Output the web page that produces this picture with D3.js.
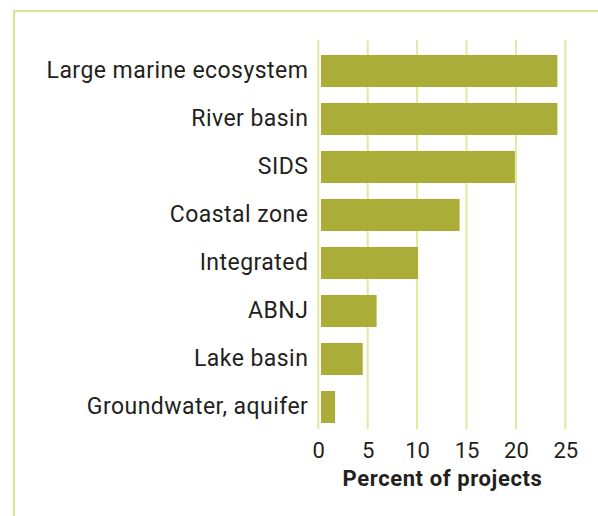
<!DOCTYPE html>
<html>
<head>
<meta charset="utf-8">
<script src="https://cdn.jsdelivr.net/npm/d3@7"></script>
<style>
  html, body { margin: 0; padding: 0; background: #ffffff; }
  svg { display: block; }
  text { font-family: Roboto, "Noto Sans", sans-serif; fill: #231f20; }
</style>
</head>
<body>
<svg id="chart" width="598" height="516"></svg>
<script>
// Project types, top to bottom
const categories = [
  "Large marine ecosystem",
  "River basin",
  "SIDS",
  "Coastal zone",
  "Integrated",
  "ABNJ",
  "Lake basin",
  "Groundwater, aquifer"
];
// Share of projects (%)
const percents = [24.2, 24.2, 19.9, 14.3, 10.1, 5.9, 4.5, 1.7];
const tickValues = [0, 5, 10, 15, 20, 25];
const axisTitle = "Percent of projects";

const barColor = "#aaae38";
const gridColor = "#dfe99f";
const frameColor = "#d8e48e";

const svg = d3.select("#chart");

// Frame: top and left rules
svg.append("line")
  .attr("x1", 13).attr("x2", 598).attr("y1", 11).attr("y2", 11)
  .attr("stroke", frameColor).attr("stroke-width", 2.2);
svg.append("line")
  .attr("x1", 14).attr("x2", 14).attr("y1", 10).attr("y2", 516)
  .attr("stroke", frameColor).attr("stroke-width", 2.2);

const x = d3.scaleLinear().domain([0, 25]).range([318.3, 565.3]);
const y = d3.scaleBand()
  .domain(categories)
  .range([39, 439])
  .paddingInner(1 / 3)
  .paddingOuter(1 / 3);

const gridTop = 40, gridBottom = 429;

// Vertical gridlines
svg.append("g").selectAll("line")
  .data(tickValues)
  .join("line")
  .attr("x1", d => x(d)).attr("x2", d => x(d))
  .attr("y1", gridTop).attr("y2", gridBottom)
  .attr("stroke", gridColor).attr("stroke-width", 2);

// Bars
const rows = categories.map((c, i) => ({ cat: c, val: percents[i] }));
svg.append("g").selectAll("rect")
  .data(rows)
  .join("rect")
  .attr("x", x(0) + 2.7)
  .attr("y", d => y(d.cat))
  .attr("width", d => x(d.val) - x(0) - 2.7)
  .attr("height", y.bandwidth())
  .attr("fill", barColor);

// Category labels
const yAxis = d3.axisLeft(y).tickSize(0).tickPadding(10);
const gy = svg.append("g")
  .attr("transform", `translate(${x(0)},0)`)
  .call(yAxis);
gy.select(".domain").remove();
gy.selectAll("text")
  .attr("x", -10)
  .style("font-size", "23px")
  .style("letter-spacing", "0.45px")
  .style("font-family", "Roboto, sans-serif")
  .attr("fill", "#231f20");

// Numeric axis labels
const xAxis = d3.axisBottom(x).tickValues(tickValues).tickSize(0).tickPadding(0);
const gx = svg.append("g")
  .attr("transform", `translate(0,${gridBottom + 13})`)
  .call(xAxis);
gx.select(".domain").remove();
gx.selectAll("text")
  .attr("dy", "0.71em")
  .style("font-size", "22px")
  .style("font-family", "Roboto, sans-serif")
  .attr("fill", "#231f20");

// Axis title
svg.append("text")
  .attr("x", 442.5)
  .attr("y", 486)
  .attr("text-anchor", "middle")
  .style("font-size", "22px")
  .style("font-weight", "bold")
  .style("letter-spacing", "0.6px")
  .text(axisTitle);
</script>
</body>
</html>
